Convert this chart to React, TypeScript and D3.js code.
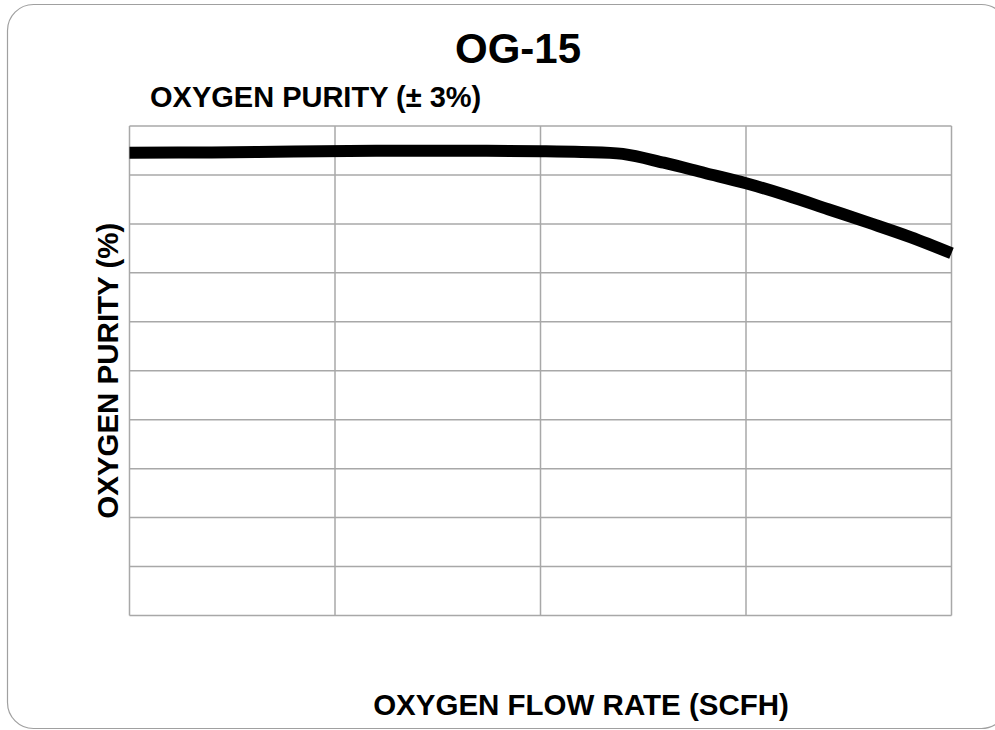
import React from "react";
import * as d3 from "d3";

const flowRate = [0, 2, 4, 6, 8, 10, 11, 12, 13, 14, 15, 16, 17, 18, 19, 20];
const purity = [94.55, 94.6, 94.8, 94.93, 94.95, 94.85, 94.7, 94.3, 92.5, 90.4, 88.3, 85.8, 83.0, 80.2, 77.3, 74.0];
const xTicks = [0, 5, 10, 15, 20];
const yTicks = [0, 10, 20, 30, 40, 50, 60, 70, 80, 90, 100];

const W = 995;
const H = 730;
const plot = { left: 129.5, right: 951.5, top: 126, bottom: 615.5 };
const FONT = "'Liberation Sans', Arial, Helvetica, sans-serif";

export default function App() {
  const x = d3.scaleLinear().domain([0, 20]).range([plot.left, plot.right]);
  const y = d3.scaleLinear().domain([0, 100]).range([plot.bottom, plot.top]);
  const pts: [number, number][] = flowRate.map((f, i) => [f, purity[i]]);
  const line = d3
    .line<[number, number]>()
    .x((d) => x(d[0]))
    .y((d) => y(d[1]))
    .curve(d3.curveCatmullRom.alpha(0.5));

  return (
    <svg
      width={W}
      height={H}
      style={{ position: "absolute", left: 0, top: 0, background: "#fff" }}
    >
      <rect x={7.5} y={4.5} width={1000} height={724} rx={26} ry={26} fill="#fff" stroke="#a0a0a0" strokeWidth={1.2} />
      <text x={518} y={63} textAnchor="middle" fontFamily={FONT} fontWeight="bold" fontSize={42} fill="#000">
        OG-15
      </text>
      <text x={150} y={107} fontFamily={FONT} fontWeight="bold" fontSize={29} fill="#000">
        OXYGEN PURITY (± 3%)
      </text>
      <g stroke="#a8a8a8" strokeWidth={1.5}>
        {yTicks.map((t) => (
          <line key={"h" + t} x1={plot.left} x2={plot.right} y1={y(t)} y2={y(t)} />
        ))}
        {xTicks.map((t) => (
          <line key={"v" + t} x1={x(t)} x2={x(t)} y1={plot.top} y2={plot.bottom} />
        ))}
      </g>
      <path d={line(pts) || ""} fill="none" stroke="#000" strokeWidth={12} strokeLinecap="butt" strokeLinejoin="round" />
      <text
        transform={`translate(118, ${(plot.top + plot.bottom) / 2}) rotate(-90)`}
        textAnchor="middle"
        fontFamily={FONT}
        fontWeight="bold"
        fontSize={29.5}
        fill="#000"
      >
        OXYGEN PURITY (%)
      </text>
      <text x={581} y={715} textAnchor="middle" fontFamily={FONT} fontWeight="bold" fontSize={29.5} fill="#000">
        OXYGEN FLOW RATE (SCFH)
      </text>
    </svg>
  );
}
